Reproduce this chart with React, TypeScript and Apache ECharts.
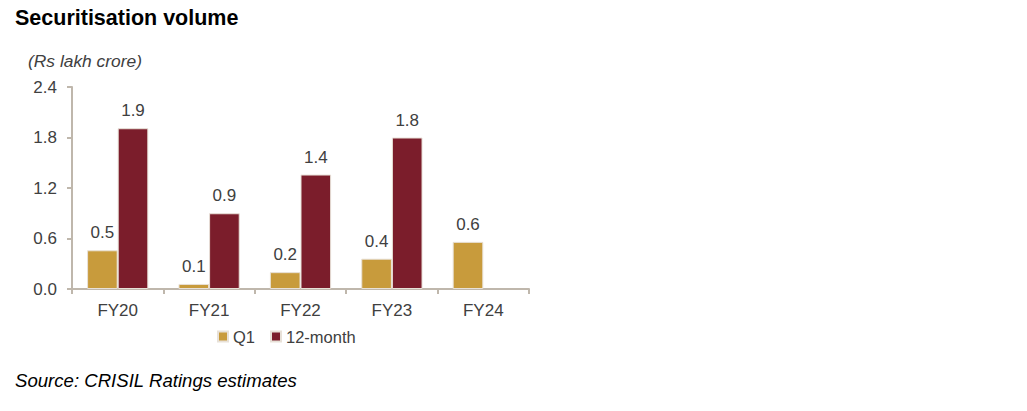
import React, { useEffect, useRef } from "react";
import * as echarts from "echarts";

const categories = ["FY20", "FY21", "FY22", "FY23", "FY24"];
const q1Values = [0.46, 0.06, 0.2, 0.36, 0.56];
const twelveMonthValues: (number | null)[] = [1.91, 0.9, 1.36, 1.8, null];
const yTicks = { min: 0, max: 2.4, interval: 0.6 };

const FONT = "'Liberation Sans', Arial, sans-serif";
const AXIS_COLOR = "#bfb7ac";
const TEXT_COLOR = "#404040";

export default function App() {
  const ref = useRef<HTMLDivElement>(null);
  useEffect(() => {
    document.body.style.margin = "0";
    const chart = echarts.init(ref.current!, null, { renderer: "svg" });
    const label = {
      show: true,
      position: "top" as const,
      distance: 9,
      fontSize: 17,
      fontFamily: FONT,
      color: TEXT_COLOR,
      formatter: (p: any) => (p.value == null ? "" : Number(p.value).toFixed(1)),
    };
    chart.setOption({
      animation: false,
      backgroundColor: "#ffffff",
      textStyle: { fontFamily: FONT },
      graphic: [
        {
          type: "text",
          left: 15,
          top: 7,
          style: { text: "Securitisation volume", font: `bold 21.5px ${FONT}`, fill: "#000" },
        },
        {
          type: "text",
          left: 28,
          top: 52,
          style: { text: "(Rs lakh crore)", font: `italic 17.4px ${FONT}`, fill: TEXT_COLOR },
        },
        {
          type: "text",
          left: 15,
          top: 371,
          style: { text: "Source: CRISIL Ratings estimates", font: `italic 18.6px ${FONT}`, fill: "#000" },
        },
      ],
      legend: {
        left: 217,
        top: 328,
        padding: 0,
        itemWidth: 10,
        itemHeight: 10,
        itemGap: 15,
        icon: "rect",
        textStyle: { fontSize: 16.5, color: TEXT_COLOR, fontFamily: FONT },
        data: ["Q1", "12-month"],
      },
      grid: { left: 72, right: 498, top: 87, bottom: 122 },
      xAxis: {
        type: "category",
        data: categories,
        axisLine: { lineStyle: { color: AXIS_COLOR, width: 2 } },
        axisTick: { show: true, length: 5, lineStyle: { color: AXIS_COLOR, width: 2 } },
        axisLabel: { fontSize: 17, color: TEXT_COLOR, margin: 13, fontFamily: FONT },
      },
      yAxis: {
        type: "value",
        min: yTicks.min,
        max: yTicks.max,
        interval: yTicks.interval,
        splitLine: { show: false },
        axisLine: { show: true, lineStyle: { color: AXIS_COLOR, width: 2 } },
        axisTick: { show: true, length: 5, lineStyle: { color: AXIS_COLOR, width: 2 } },
        axisLabel: {
          fontSize: 17,
          color: TEXT_COLOR,
          margin: 15,
          fontFamily: FONT,
          formatter: (v: number) => v.toFixed(1),
        },
      },
      series: [
        {
          name: "Q1",
          type: "bar",
          data: q1Values,
          barGap: "0%",
          barCategoryGap: "33%",
          itemStyle: { color: "#c89b3c", borderColor: "#e8e1d8", borderWidth: 1 },
          label,
        },
        {
          name: "12-month",
          type: "bar",
          data: twelveMonthValues,
          barGap: "0%",
          barCategoryGap: "33%",
          itemStyle: { color: "#7b1d2b", borderColor: "#e8e1d8", borderWidth: 1 },
          label,
        },
      ],
    });
    return () => chart.dispose();
  }, []);
  return <div ref={ref} style={{ width: 1027, height: 411 }} />;
}
